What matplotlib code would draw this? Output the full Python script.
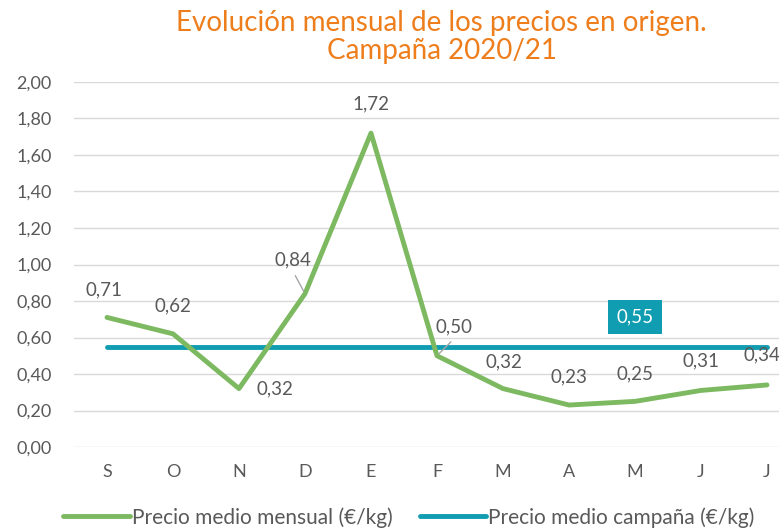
import matplotlib
matplotlib.use("Agg")
import matplotlib.pyplot as plt

months = ["S", "O", "N", "D", "E", "F", "M", "A", "M", "J", "J"]
monthly_price = [0.71, 0.62, 0.32, 0.84, 1.72, 0.50, 0.32, 0.23, 0.25, 0.31, 0.34]
campaign_price = [0.55] * len(months)
yticks = [0.0, 0.2, 0.4, 0.6, 0.8, 1.0, 1.2, 1.4, 1.6, 1.8, 2.0]

plt.rcParams['font.family'] = ['Lato', 'DejaVu Sans']

green = "#7DB961"
teal = "#109DB2"
grey = "#595959"

fig = plt.figure(figsize=(7.79, 5.29), dpi=100)
ax = fig.add_axes([74/779, 82/529, 726/779, 365/529])
x = list(range(len(months)))

ax.plot(x, monthly_price, color=green, lw=3.5, solid_capstyle='round', zorder=3,
        label="Precio medio mensual (€/kg)")
ax.plot(x, campaign_price, color=teal, lw=3.5, solid_capstyle='round', zorder=2,
        label="Precio medio campaña (€/kg)")

ax.set_xlim(-0.5, len(months) - 0.5)
ax.set_ylim(0, 2.0)
ax.set_yticks(yticks)
ax.set_yticklabels([f"{v:.2f}".replace(".", ",") for v in yticks], color=grey, fontsize=13)
ax.set_xticks(x)
ax.set_xticklabels(months, color=grey, fontsize=13)
ax.tick_params(length=0, pad=12)
ax.tick_params(axis='y', pad=16)
for s in ax.spines.values():
    s.set_visible(False)
ax.grid(axis='y', color="#d9d9d9", lw=1)
ax.set_axisbelow(True)

# data label offsets in points
offsets = [(-2, 20), (0, 20), (26, 0), (-9, 24), (0, 21), (12, 21), (1, 19), (0, 20), (0, 20), (0, 21), (-4, 22)]
for i, (v, off) in enumerate(zip(monthly_price, offsets)):
    txt = f"{v:.2f}".replace(".", ",")
    ax.annotate(txt, (i, v), xytext=off, textcoords='offset points', ha='center', va='center',
                color=grey, fontsize=13.5)
# leader lines
ax.annotate("", (3, 0.84), xytext=(-7, 13), textcoords='offset points',
            arrowprops=dict(arrowstyle='-', color='#a6a6a6', lw=1, shrinkA=0, shrinkB=2))
ax.annotate("", (5, 0.50), xytext=(10, 10), textcoords='offset points',
            arrowprops=dict(arrowstyle='-', color='#a6a6a6', lw=1, shrinkA=0, shrinkB=2))

ax.text(8, 0.712, "0,55", ha='center', va='center', color='white', fontsize=13.5,
        bbox=dict(boxstyle='square,pad=0.45', fc=teal, ec='none'))

fig.text(0.567, 0.982, "Evolución mensual de los precios en origen.\nCampaña 2020/21",
         ha='center', va='top', color="#EE7D1C", fontsize=20, fontweight='normal',
         linespacing=1.1)

leg = fig.legend(loc='center', bbox_to_anchor=(0.525, 0.022), ncol=2, frameon=False,
                 fontsize=15, handlelength=3.2, handletextpad=0.1, columnspacing=1.3,
                 labelcolor=grey)

fig.savefig("out.png", dpi=100)
